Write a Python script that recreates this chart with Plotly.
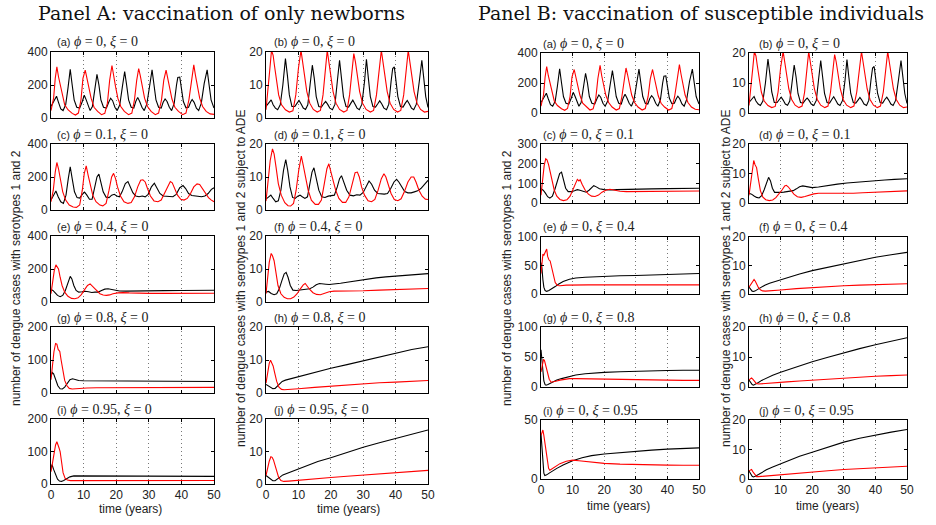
import plotly.graph_objects as go

W, H = 936, 525

# ---------------- data: (time in years, cases) keypoints ----------------
A_a_red = [(0,45),(0.8,120),(1.3,240),(1.8,310),(2.3,250),(2.8,200),(3.4,140),(4.2,80),(5.2,50),(6.5,28),(7.5,18),(8.4,30),(9.2,110),(9.8,240),(10.5,290),(11.0,240),(11.6,180),(12.3,120),(13.2,65),(14.3,40),(15.5,20),(16.5,28),(17.3,90),(18.0,230),(18.7,318),(19.2,250),(19.8,190),(20.5,120),(21.4,70),(22.5,40),(23.8,20),(24.8,30),(25.6,110),(26.3,230),(26.9,300),(27.4,255),(28.0,190),(28.7,120),(29.6,70),(30.7,40),(32.0,20),(33.0,30),(33.9,110),(34.6,230),(35.3,290),(35.8,245),(36.4,180),(37.1,115),(38.0,65),(39.1,40),(40.4,20),(41.4,30),(42.3,110),(43.1,240),(43.8,322),(44.3,260),(44.9,190),(45.6,120),(46.5,70),(47.6,40),(48.8,25),(50,22)]
A_a_black = [(0,70),(0.8,100),(1.7,132),(2.3,95),(3.0,55),(3.7,45),(4.5,80),(5.2,180),(5.9,295),(6.5,200),(7.1,110),(7.9,65),(8.8,60),(9.6,100),(10.2,138),(10.8,110),(11.4,70),(12.0,45),(12.7,70),(13.4,170),(14.1,265),(14.7,200),(15.3,110),(16.1,65),(17.0,60),(17.7,95),(18.3,120),(18.9,105),(19.6,65),(20.3,45),(21.1,80),(21.9,190),(22.6,282),(23.2,200),(23.8,110),(24.6,65),(25.4,60),(26.0,100),(26.6,125),(27.2,100),(27.9,65),(28.6,45),(29.4,85),(30.3,200),(31.0,292),(31.6,200),(32.2,110),(33.0,65),(33.8,60),(34.4,95),(35.0,115),(35.6,100),(36.3,65),(37.0,45),(37.8,90),(38.5,200),(38.9,245),(39.5,248),(40.0,170),(40.6,100),(41.4,62),(42.2,65),(42.8,95),(43.3,112),(43.9,95),(44.6,60),(45.3,45),(46.1,90),(47.0,210),(47.9,292),(48.5,200),(49.1,110),(50,60)]
A_b_red = [(0,2.5),(0.6,8),(1.2,15),(1.7,20.5),(2.2,19),(2.6,16),(3.2,12),(3.9,7),(4.8,4),(6.0,2.5),(7.2,1.8),(8.3,2.2),(9.2,7),(10.0,15),(10.8,20.5),(11.3,17),(11.9,13),(12.6,8),(13.5,4.5),(14.6,2.6),(15.8,1.8),(16.8,2.3),(17.6,7),(18.3,15),(18.9,20.5),(19.4,17),(20.0,13),(20.7,8),(21.6,4.5),(22.7,2.6),(24.0,1.8),(25.0,2.3),(25.8,7),(26.5,15),(27.1,19.5),(27.6,17),(28.2,12),(28.9,8),(29.8,4.5),(30.9,2.6),(32.2,1.8),(33.2,2.3),(34.1,7),(34.9,15),(35.6,20.5),(36.1,17),(36.7,13),(37.4,8),(38.3,4.5),(39.4,2.6),(40.6,1.8),(41.6,2.3),(42.5,7),(43.3,15),(43.9,20.5),(44.4,17),(45.0,13),(45.7,8),(46.6,4.5),(47.7,2.6),(48.9,1.8),(50,2.0)]
A_b_black = [(0,3.5),(0.8,4.5),(1.6,5.5),(2.2,4),(2.9,3),(3.6,2.5),(4.4,4),(5.2,10),(6.0,18),(6.6,13),(7.2,7),(8.0,3.5),(8.9,3.5),(9.6,4.5),(10.2,5.3),(10.8,4.3),(11.5,3),(12.2,2.6),(12.9,4),(13.6,10),(14.3,16),(14.9,12),(15.5,6.5),(16.3,3.5),(17.1,3.3),(17.8,4.3),(18.4,5),(19.0,4.2),(19.7,3),(20.5,2.5),(21.3,4.2),(22.0,11),(22.7,17.5),(23.3,12),(23.9,6.5),(24.7,3.5),(25.5,3.3),(26.2,4.5),(26.8,5.4),(27.4,4.3),(28.1,3),(28.8,2.5),(29.6,4.2),(30.4,11),(31.0,17.8),(31.6,12),(32.2,6.5),(33.0,3.5),(33.8,3.3),(34.5,4.3),(35.1,5.2),(35.7,4.3),(36.4,3),(37.2,2.5),(37.9,4.2),(38.6,11),(39.1,15),(39.6,15.5),(40.1,11),(40.7,6.5),(41.5,3.5),(42.3,3.3),(43.0,4.5),(43.6,5.3),(44.2,4.3),(44.9,3),(45.6,2.5),(46.4,4.2),(47.3,11),(48.1,17.5),(48.7,12),(49.3,6.5),(50,3.2)]
A_c_red = [(0,50),(0.7,120),(1.3,230),(1.8,288),(2.3,250),(2.9,180),(3.6,110),(4.5,60),(5.6,30),(6.8,18),(7.8,16),(8.8,30),(9.6,120),(10.2,220),(10.8,268),(11.4,210),(12.0,150),(12.8,90),(13.8,50),(15.0,30),(15.9,25),(16.9,40),(17.8,120),(18.6,200),(19.2,222),(19.8,190),(20.4,140),(21.3,85),(22.4,50),(23.6,40),(24.6,45),(25.6,80),(26.6,140),(27.5,180),(28.2,183),(28.9,170),(29.6,130),(30.5,85),(31.6,55),(32.8,50),(33.8,60),(34.8,100),(35.8,150),(36.6,172),(37.2,165),(37.9,130),(38.8,90),(39.8,65),(40.8,60),(41.8,70),(42.8,100),(43.8,140),(44.8,158),(45.6,155),(46.4,130),(47.3,100),(48.3,75),(49.2,60),(50,50)]
A_c_black = [(0,60),(0.7,90),(1.5,115),(2.2,80),(3.0,50),(3.8,40),(4.6,90),(5.3,190),(5.9,262),(6.5,190),(7.2,110),(8.0,75),(8.8,72),(9.6,95),(10.3,108),(11.0,90),(11.8,65),(12.6,65),(13.4,130),(14.1,200),(14.7,218),(15.3,170),(16.0,110),(16.9,78),(17.8,75),(18.6,90),(19.4,95),(20.2,85),(21.0,80),(21.8,110),(22.8,160),(23.6,172),(24.3,145),(25.1,105),(26.0,85),(27.0,80),(28.0,85),(28.9,80),(29.8,95),(30.8,140),(31.7,162),(32.5,135),(33.4,100),(34.4,85),(35.4,85),(36.4,82),(37.4,80),(38.4,95),(39.5,135),(40.5,148),(41.3,130),(42.2,100),(43.2,88),(44.2,85),(45.2,82),(46.2,80),(47.2,85),(48.2,100),(49.2,125),(50,135)]
A_d_red = [(0,2.7),(0.6,8),(1.3,15),(2.0,18.5),(2.5,17),(3.1,13),(3.8,8),(4.7,4.5),(5.8,2.2),(6.8,1.3),(7.6,1.2),(8.5,2),(9.3,6),(10.1,12),(10.9,16.3),(11.5,13.5),(12.2,10),(13.0,6),(14.0,3),(15.2,1.7),(16.2,1.7),(17.1,3),(18.0,8),(18.8,12.5),(19.4,14),(20.0,12),(20.7,9),(21.5,6),(22.5,3.5),(23.6,2.3),(24.6,2.3),(25.6,4),(26.6,8),(27.5,11.3),(28.2,11.5),(28.8,10),(29.5,7),(30.4,4.5),(31.5,2.8),(32.6,2.5),(33.6,3.2),(34.6,6),(35.6,9.5),(36.4,11),(37.0,10),(37.7,7.5),(38.6,5),(39.6,3.2),(40.7,2.8),(41.7,3.4),(42.7,5.5),(43.8,8.5),(44.8,10),(45.6,10),(46.3,8.5),(47.2,6),(48.2,4.2),(49.2,3.3),(50,3.2)]
A_d_black = [(0,3.3),(0.8,4),(1.5,4.5),(2.2,3.5),(3.0,2.5),(3.8,2.8),(4.6,6),(5.4,12),(6.1,15.3),(6.7,12),(7.4,7),(8.2,3.8),(9.0,3.5),(9.8,4.2),(10.5,4.5),(11.2,4),(12.0,3.5),(12.8,4),(13.6,8.5),(14.2,11.5),(14.8,12.8),(15.5,9.5),(16.3,6),(17.2,4),(18.2,3.8),(19.2,4.2),(20.2,4.3),(21.1,4.5),(22.0,7),(22.7,9.5),(23.3,10.4),(24.0,8.5),(24.9,6),(25.9,4.5),(27.0,4.3),(28.0,4.6),(29.0,4.5),(30.0,5.3),(31.0,7.5),(31.8,8.8),(32.6,7.8),(33.5,6),(34.5,5),(35.5,4.8),(36.5,4.8),(37.5,5),(38.5,6.5),(39.5,8.5),(40.3,9.3),(41.0,8.5),(41.8,7),(42.8,5.6),(43.8,5.2),(44.8,5.2),(45.8,5.5),(46.8,5.8),(47.8,6.5),(48.8,7.8),(50,9)]
A_e_red = [(0,50),(0.5,120),(1.0,190),(1.5,225),(1.9,215),(2.3,200),(2.8,150),(3.4,100),(4.2,60),(5.2,35),(6.3,22),(7.3,20),(8.3,25),(9.3,45),(10.3,75),(11.2,100),(12.0,110),(12.5,100),(13.1,85),(14.0,65),(15.0,50),(16.0,42),(17.0,40),(18.0,43),(19.0,50),(20.5,55),(22,57),(24,55),(26,53),(28,52),(30,52),(35,52),(40,52),(45,53),(50,53)]
A_e_black = [(0,75),(0.6,70),(1.3,55),(2.0,40),(2.8,32),(3.6,40),(4.4,70),(5.2,120),(5.9,155),(6.4,140),(7.0,100),(7.7,70),(8.5,60),(9.5,62),(10.5,65),(11.5,62),(12.5,58),(13.5,60),(14.5,60),(15.5,70),(16.5,78),(17.5,80),(18.5,75),(19.5,70),(21,67),(23,66),(25,67),(27,68),(30,68),(35,69),(40,70),(45,70),(50,71)]
A_f_red = [(0,2.5),(0.5,7),(1.0,12),(1.6,14.7),(2.0,14),(2.5,12.5),(3.0,9),(3.7,5),(4.6,2.5),(5.6,1.4),(6.6,1.0),(7.6,1.0),(8.6,1.5),(9.6,2.5),(10.6,4),(11.5,5.2),(12.1,5.6),(12.7,4.8),(13.5,3.8),(14.5,2.8),(15.6,2.3),(16.8,2.2),(18.0,2.6),(19.5,3.1),(21,3.3),(23,3.3),(26,3.3),(30,3.4),(35,3.6),(40,3.7),(45,3.9),(50,4.1)]
A_f_black = [(0,3),(0.8,3.2),(1.6,2.6),(2.5,2.2),(3.3,2.5),(4.1,4),(4.9,6.5),(5.6,8.5),(6.2,9),(6.8,7.5),(7.5,5),(8.3,3.6),(9.3,3.5),(10.5,3.6),(11.5,3.7),(12.5,3.8),(13.5,4),(14.5,4.5),(15.5,5.2),(16.5,5.6),(17.5,5.6),(18.5,5.4),(19.5,5.3),(21,5.4),(23,5.7),(25,6),(28,6.5),(31,6.9),(34,7.3),(37,7.6),(40,7.9),(43,8.1),(46,8.3),(50,8.6)]
A_g_red = [(0,40),(0.4,80),(0.9,125),(1.4,150),(1.8,148),(2.2,132),(2.7,126),(3.1,100),(3.6,65),(4.2,38),(4.9,22),(5.6,14),(6.5,12),(7.5,13),(9,14),(11,15),(14,16),(18,16),(25,16),(30,16),(40,16.5),(50,17)]
A_g_black = [(0,50),(0.4,62),(0.8,58),(1.4,40),(2.1,22),(2.8,13),(3.5,12),(4.2,18),(5.0,30),(5.8,40),(6.6,43),(7.5,41),(8.5,38),(10,37),(13,37),(16,36),(20,36),(25,36),(30,36),(40,35.5),(50,35)]
A_h_red = [(0,3),(0.5,6),(1.0,9),(1.4,9.9),(1.8,9),(2.2,8.2),(2.7,6),(3.3,3.5),(4.0,1.8),(4.8,1.1),(5.6,1.0),(7,1.05),(10,1.3),(15,1.7),(20,2.1),(25,2.4),(30,2.8),(35,3.1),(40,3.3),(45,3.6),(50,3.8)]
A_h_black = [(0,2.6),(0.7,2.2),(1.4,1.6),(2.1,1.3),(2.8,1.4),(3.5,2.0),(4.2,2.9),(5.0,3.5),(6.0,3.9),(8,4.4),(10,5.0),(13,5.8),(16,6.6),(20,7.5),(25,8.6),(30,9.8),(35,11),(40,12.2),(45,13.2),(50,14)]
A_i_red = [(0,38),(0.4,60),(0.9,95),(1.4,120),(1.8,130),(2.1,118),(2.5,110),(2.8,100),(3.2,70),(3.7,35),(4.3,18),(5.0,12),(6,10.5),(8,10.5),(12,11),(20,11),(30,11),(40,11),(50,11)]
A_i_black = [(0,45),(0.3,60),(0.8,45),(1.4,28),(2.0,15),(2.6,9),(3.2,8),(3.9,11),(4.8,17),(5.8,22),(7,25),(8.5,25),(10,24.5),(15,24),(20,24),(30,24),(40,23.5),(50,23.5)]
A_j_red = [(0,2.6),(0.5,5),(1.0,7),(1.5,8.4),(1.9,8.2),(2.3,7.4),(2.8,5.5),(3.3,3.5),(3.9,2.0),(4.6,1.1),(5.5,0.8),(7,0.9),(10,1.2),(15,1.6),(20,2.0),(25,2.4),(30,2.8),(35,3.2),(40,3.5),(45,3.9),(50,4.2)]
A_j_black = [(0,2.6),(0.7,2.0),(1.4,1.4),(2.1,1.0),(2.8,1.0),(3.5,1.4),(4.3,2.1),(5.2,2.8),(6.5,3.3),(8,3.9),(10,4.7),(13,5.8),(16,6.9),(20,8.1),(25,9.8),(30,11.3),(35,12.7),(40,14),(45,15.3),(50,16.6)]

B_c_red = [(0,40),(0.5,110),(1.0,190),(1.5,225),(1.9,220),(2.4,195),(2.9,160),(3.5,110),(4.2,65),(5.0,35),(6.0,18),(7.1,12),(8.2,16),(9.2,35),(10.2,75),(11.0,105),(11.5,120),(12.0,112),(12.4,118),(13.0,95),(14.0,65),(15.0,45),(16.0,35),(17.1,33),(18.2,40),(19.3,55),(20.5,65),(21.8,70),(23,66),(25,60),(27,58),(30,58),(35,58),(40,59),(45,60),(50,61)]
B_c_black = [(0,72),(0.7,65),(1.4,50),(2.1,32),(2.8,25),(3.6,35),(4.4,70),(5.2,120),(5.9,150),(6.5,157),(7.1,120),(7.8,75),(8.6,58),(9.6,58),(10.6,62),(11.5,68),(12.3,65),(13.3,58),(14.3,55),(15.2,65),(16.0,80),(16.7,88),(17.5,82),(18.5,72),(20,68),(22,66),(24,68),(27,70),(30,71),(35,72),(40,73),(45,74),(50,75)]
B_d_red = [(0,2.6),(0.5,6),(1.0,11),(1.5,14.4),(1.9,13),(2.4,12),(2.9,8.5),(3.6,4.2),(4.4,2),(5.3,1.1),(6.4,0.8),(7.5,1),(8.5,1.8),(9.5,3),(10.5,4.5),(11.3,5.8),(11.8,6.0),(12.4,5.5),(13.2,4.2),(14.2,3),(15.3,2.1),(16.5,1.9),(17.7,2.2),(19,2.7),(20.5,3.1),(22,3.3),(24,3.3),(26,3.2),(28,3.1),(30,3.1),(33,3.3),(36,3.5),(40,3.7),(45,3.9),(50,4.1)]
B_d_black = [(0,3.3),(0.8,3.0),(1.6,2.4),(2.4,1.9),(3.2,1.7),(4.0,2.5),(4.8,4.5),(5.5,7),(6.2,8.7),(6.8,7.5),(7.4,5),(8.1,3.6),(9,3.5),(10,3.6),(11,3.7),(12,3.8),(13,3.9),(14,4.2),(15,4.8),(16,5.5),(17,5.8),(18,5.6),(19,5.3),(20,5.2),(22,5.4),(25,6),(28,6.4),(31,6.8),(34,7.1),(37,7.4),(40,7.6),(43,7.8),(46,8),(50,8.2)]
B_e_red = [(0,36),(0.3,55),(0.6,70),(0.9,68),(1.2,72),(1.5,76),(1.8,79),(2.1,66),(2.5,60),(2.9,58),(3.4,45),(3.9,30),(4.5,20),(5.2,15),(6,14.5),(8,15.5),(10,16),(15,16),(20,16),(30,16),(40,16),(50,16)]
B_e_black = [(0,55),(0.3,45),(0.6,25),(0.9,12),(1.3,6),(1.8,4.6),(2.5,6),(3.5,9),(4.5,13),(5.5,17),(7,22),(9,26),(11,28),(14,29.5),(17,30.5),(20,31),(25,32),(30,32.5),(35,33.5),(40,34.5),(45,35.5),(50,36)]
B_f_red = [(0,2.4),(0.4,3.2),(0.8,4),(1.2,4.6),(1.6,5.1),(2.0,4.5),(2.5,3.2),(3.0,2.2),(3.6,1.5),(4.3,1.1),(5.2,1.0),(7,1.1),(10,1.4),(15,1.9),(20,2.3),(25,2.6),(30,2.9),(35,3.1),(40,3.3),(45,3.5),(50,3.6)]
B_f_black = [(0,2.4),(0.5,1.6),(1.0,1.0),(1.5,0.9),(2.0,1.1),(3.0,1.8),(4,2.6),(5,3.1),(6.5,3.8),(8.5,4.5),(10.5,5.2),(13,6.0),(16,7),(20,8.2),(25,9.4),(30,10.6),(35,11.8),(40,12.9),(45,13.8),(50,14.6)]
B_g_red = [(0,25),(0.4,38),(0.8,46),(1.1,44),(1.5,35),(2.0,22),(2.6,13),(3.2,8),(4,8.5),(5,10),(6,11.5),(7.5,13),(9,14),(11,14),(15,13.5),(20,13),(25,12.5),(30,12),(35,11.5),(40,11.3),(45,11),(50,11)]
B_g_black = [(0,62),(0.3,45),(0.6,25),(0.9,10),(1.3,4),(1.6,3),(2.2,4),(3,6.5),(4,9),(5,11.5),(6.5,14),(8.5,17),(11,20),(14,22),(17,23.3),(20,24.3),(25,25.5),(30,26.5),(35,27),(40,27.5),(45,28),(50,28)]
B_h_red = [(0,2.4),(0.4,2.8),(0.8,3.0),(1.2,2.6),(1.7,1.8),(2.3,1.2),(3,1.0),(5,1.1),(8,1.3),(12,1.7),(16,2.0),(20,2.3),(25,2.7),(30,3.0),(35,3.3),(40,3.6),(45,3.8),(50,4.0)]
B_h_black = [(0,2.3),(0.5,1.4),(1.0,0.8),(1.4,0.6),(2.0,0.9),(3,1.5),(4,2.2),(5.5,3),(7.5,3.9),(10,4.9),(13,6),(16,7),(20,8.4),(25,9.9),(30,11.4),(35,12.8),(40,14.1),(45,15.3),(50,16.4)]
B_i_red = [(0,37),(0.3,40),(0.6,41.5),(0.9,37),(1.2,31),(1.6,22),(2.0,14),(2.4,9),(2.8,7.4),(3.5,8.5),(4.5,10.5),(6,13),(8,15),(10,16),(12,15.5),(15,14.5),(20,13.2),(25,12.6),(30,12.2),(35,12),(40,11.8),(45,11.7),(50,11.6)]
B_i_black = [(0,38),(0.3,25),(0.6,12),(0.9,5),(1.2,3),(1.8,3.5),(2.6,5),(3.6,6.8),(5,9),(7,11.8),(10,15.5),(13,18),(16,19.8),(20,21.2),(25,22.5),(30,23.6),(35,24.5),(40,25.3),(45,25.9),(50,26.4)]
B_j_red = [(0,2.8),(0.4,3.1),(0.8,3.2),(1.2,2.5),(1.8,1.4),(2.4,0.8),(3,0.8),(5,1.0),(8,1.3),(12,1.7),(16,2.1),(20,2.4),(25,2.8),(30,3.2),(35,3.5),(40,3.8),(45,4.0),(50,4.3)]
B_j_black = [(0,2.7),(0.5,1.7),(1.0,0.9),(1.4,0.7),(2.0,0.9),(3,1.5),(4,2.2),(5.5,3.1),(7.5,4.1),(10,5.2),(13,6.6),(16,7.7),(20,9.1),(25,10.9),(30,12.5),(35,13.8),(40,14.9),(45,15.9),(50,16.8)]

letters = ["a", "b", "c", "d", "e", "f", "g", "h", "i", "j"]
phi_A = ["0", "0", "0.1", "0.1", "0.4", "0.4", "0.8", "0.8", "0.95", "0.95"]
xi_A = ["0"] * 10
phi_B = ["0"] * 10
xi_B = ["0", "0", "0.1", "0.1", "0.4", "0.4", "0.8", "0.8", "0.95", "0.95"]
ymax_A = [400, 20, 400, 20, 400, 20, 200, 20, 200, 20]
ymax_B = [400, 20, 300, 20, 100, 20, 100, 20, 50, 20]
yticks = {400: [0, 200, 400], 300: [0, 100, 200, 300], 200: [0, 100, 200],
          100: [0, 50, 100], 50: [0, 50], 20: [0, 10, 20]}
xticks = [0, 10, 20, 30, 40, 50]

series_A = [(A_a_red, A_a_black), (A_b_red, A_b_black), (A_c_red, A_c_black), (A_d_red, A_d_black),
            (A_e_red, A_e_black), (A_f_red, A_f_black), (A_g_red, A_g_black), (A_h_red, A_h_black),
            (A_i_red, A_i_black), (A_j_red, A_j_black)]
series_B = [(A_a_red, A_a_black), (A_b_red, A_b_black), (B_c_red, B_c_black), (B_d_red, B_d_black),
            (B_e_red, B_e_black), (B_f_red, B_f_black), (B_g_red, B_g_black), (B_h_red, B_h_black),
            (B_i_red, B_i_black), (B_j_red, B_j_black)]

# ---------------- layout geometry (pixels) ----------------
colsA = [(51, 214), (266, 428)]
rowsA = [(52, 118), (144, 210), (236, 302), (327, 393), (419, 484)]
colsB = [(541, 699), (749, 907)]
rowsB = [(53, 113), (144, 203), (237, 294), (327, 387), (420, 479)]
title_dx_A = [4, 6]
title_dx_B = [0, 8]

SANS = "Liberation Sans, Arial, sans-serif"
SERIF = "Liberation Serif, serif"
TSERIF = "DejaVu Serif, serif"

fig = go.Figure()
layout = {}
annotations = []

def px_x(p):
    return p / W

def px_y(p):
    return 1 - p / H

k = 0
for panel, cols, rows, series, ymaxs, phis, xis, tdx in [
        ("A", colsA, rowsA, series_A, ymax_A, phi_A, xi_A, title_dx_A),
        ("B", colsB, rowsB, series_B, ymax_B, phi_B, xi_B, title_dx_B)]:
    for i in range(10):
        k += 1
        r, c = divmod(i, 2)
        x0, x1 = cols[c]
        y0, y1 = rows[r]
        xa = "xaxis" if k == 1 else f"xaxis{k}"
        ya = "yaxis" if k == 1 else f"yaxis{k}"
        xr = "x" if k == 1 else f"x{k}"
        yr = "y" if k == 1 else f"y{k}"
        red, black = series[i]
        for pts, col in [(black, "#000000"), (red, "#ff0000")]:
            fig.add_trace(go.Scatter(x=[p[0] for p in pts], y=[p[1] for p in pts],
                                     mode="lines", line=dict(color=col, width=1.1),
                                     xaxis=xr, yaxis=yr, showlegend=False, hoverinfo="skip"))
        common = dict(showline=True, linecolor="black", linewidth=1, mirror="ticks",
                      ticks="inside", ticklen=3, tickcolor="black", tickwidth=1,
                      zeroline=False, fixedrange=True, automargin=False,
                      tickfont=dict(family=SANS, size=12, color="#222"))
        layout[xa] = dict(common, domain=[px_x(x0), px_x(x1)], anchor=yr, range=[0, 50],
                          tickvals=xticks, showticklabels=(r == 4),
                          showgrid=True, gridcolor="#777777", griddash="1px,3px", gridwidth=1)
        ym = ymaxs[i]
        layout[ya] = dict(common, domain=[px_y(y1), px_y(y0)], anchor=xr, range=[0, ym],
                          tickvals=yticks[ym], showgrid=False)
        txt = (f"({letters[i]})<span style=\"font-family:{SERIF}; font-size:14px\"> "
               f"<i>ϕ</i> = {phis[i]}, <i>ξ</i> = {xis[i]}</span>")
        annotations.append(dict(text=txt, x=px_x(x0 + tdx[c]), y=px_y(y0 - 10),
                                xref="paper", yref="paper", xanchor="left", yanchor="middle",
                                showarrow=False, font=dict(family=SANS, size=11, color="#222")))

# panel titles
annotations.append(dict(text="Panel A: vaccination of only newborns", x=px_x(221), y=px_y(13),
                        xref="paper", yref="paper", xanchor="center", yanchor="middle",
                        showarrow=False, font=dict(family=TSERIF, size=19, color="#111")))
annotations.append(dict(text="Panel B: vaccination of susceptible individuals", x=px_x(701), y=px_y(13),
                        xref="paper", yref="paper", xanchor="center", yanchor="middle",
                        showarrow=False, font=dict(family=TSERIF, size=19, color="#111")))

# y-axis titles
ylab1 = "number of dengue cases with serotypes 1 and 2"
ylab2 = "number of dengue cases with serotypes 1 and 2 subject to ADE"
for xp, yp, t in [(16, 278, ylab1), (241, 278, ylab2), (507, 278, ylab1), (726, 278, ylab2)]:
    annotations.append(dict(text=t, x=px_x(xp), y=px_y(yp), xref="paper", yref="paper",
                            xanchor="center", yanchor="middle", textangle=-90, showarrow=False,
                            font=dict(family=SANS, size=12, color="#222")))

# x-axis titles
for xp, yp in [(130, 509), (348, 509), (618, 506), (827, 506)]:
    annotations.append(dict(text="time (years)", x=px_x(xp), y=px_y(yp), xref="paper", yref="paper",
                            xanchor="center", yanchor="middle", showarrow=False,
                            font=dict(family=SANS, size=12, color="#222")))

fig.update_layout(width=W, height=H, margin=dict(l=0, r=0, t=0, b=0),
                  paper_bgcolor="white", plot_bgcolor="white",
                  annotations=annotations, **layout)

fig.write_html("out.html", config={"displayModeBar": False, "staticPlot": True},
               post_script="document.body.style.margin='0px';")
